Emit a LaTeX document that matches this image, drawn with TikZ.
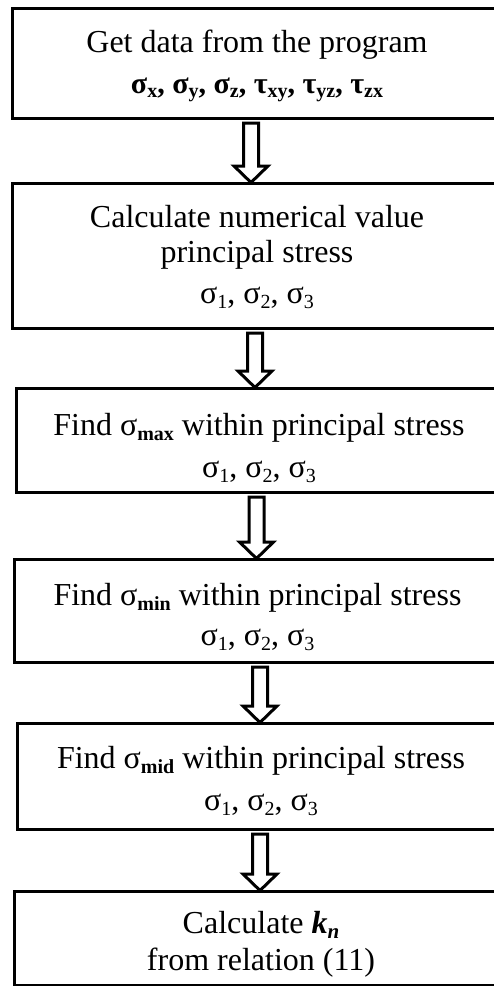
\documentclass[tikz,border=0pt]{standalone}
\usepackage{fontspec}
\setmainfont{Liberation Serif}
\usetikzlibrary{calc}
\newcommand{\mysubn}[1]{\raisebox{-5pt}{\fontsize{20}{20}\selectfont #1}}
\newcommand{\mysubb}[1]{\raisebox{-5pt}{\fontsize{20}{20}\selectfont\bfseries #1}}
\newcommand{\mysubx}[1]{\raisebox{-4pt}{\fontsize{20}{20}\selectfont\bfseries #1}}
\newcommand{\mysubbi}[1]{\raisebox{-5pt}{\fontsize{21}{21}\selectfont\bfseries\itshape #1}}
\newcommand{\sigs}{σ\mysubn{1}, σ\mysubn{2}, σ\mysubn{3}}
\newcommand{\blockarrow}[3]{%
  \draw[barrow] let \p1=(#1.south), \p2=(#2.north) in
    ({#3pt-7.5pt},{\y1-5pt}) -- ({#3pt+7.5pt},{\y1-5pt}) --
    ({#3pt+7.5pt},{\y2+17pt}) -- ({#3pt+17pt},{\y2+17pt}) --
    ({#3pt},{\y2+0.5pt}) -- ({#3pt-17pt},{\y2+17pt}) --
    ({#3pt-7.5pt},{\y2+17pt}) -- cycle;}
\begin{document}
\begin{tikzpicture}[x=1pt,y=-1pt,
  box/.style={draw, line width=3pt, anchor=north west, inner sep=0pt, outer sep=0pt},
  txt/.style={anchor=base, align=center, inner sep=0pt, font=\fontsize{32}{37}\selectfont},
  barrow/.style={draw, line width=3pt, fill=white, line join=miter}]
\useasboundingbox (0,0) rectangle (494,986);
% boxes
\node[box, minimum width=488pt, minimum height=110pt] (b1) at (12,8) {};
\node[box, minimum width=488pt, minimum height=145pt] (b2) at (12,183) {};
\node[box, minimum width=484pt, minimum height=104pt] (b3) at (16,388) {};
\node[box, minimum width=486pt, minimum height=103pt] (b4) at (14,559) {};
\node[box, minimum width=483pt, minimum height=106pt] (b5) at (17,723) {};
\node[box, minimum width=486pt, minimum height=94pt] (b6) at (14,891) {};
% texts (anchor = baseline of last line)
\node[txt] (t1) at (257,93) {Get data from the program\\[4pt]
  {\fontsize{30}{32}\selectfont\bfseries σ\mysubx{x}, σ\mysubx{y}, σ\mysubx{z}, τ\mysubx{xy}, τ\mysubx{yz}, τ\mysubx{zx}}};
\node[txt] (t2) at (257,303) {Calculate numerical value\\[-2pt] principal stress\\[4pt] \sigs};
\node[txt] (t3) at (259,477) {Find σ\mysubb{max} within principal stress\\[5pt] \sigs};
\node[txt] (t4) at (257.5,645) {Find σ\mysubb{min} within principal stress\\[3pt] \sigs};
\node[txt] (t5) at (261,810) {Find σ\mysubb{mid} within principal stress\\[5pt] \sigs};
\node[txt] (t6) at (261,970) {Calculate \textbf{\textit{k}}\mysubbi{n}\\[0pt] from relation (11)};
% arrows
\blockarrow{b1}{b2}{251}
\blockarrow{b2}{b3}{255}
\blockarrow{b3}{b4}{256.5}
\blockarrow{b4}{b5}{260}
\blockarrow{b5}{b6}{260}
\end{tikzpicture}
\end{document}
